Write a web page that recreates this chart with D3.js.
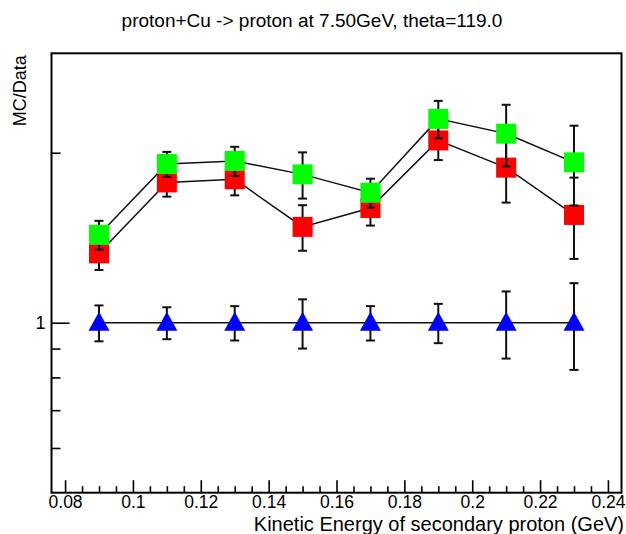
<!DOCTYPE html>
<html>
<head>
<meta charset="utf-8">
<script src="https://cdn.jsdelivr.net/npm/d3@7"></script>
<style>
  html, body { margin: 0; padding: 0; background: #fff; }
  svg { display: block; font-family: "Liberation Sans", Arial, Helvetica, sans-serif; }
</style>
</head>
<body>
<svg id="chart" width="626" height="534"></svg>
<script>
// ---- data ----
const energies = [0.09, 0.11, 0.13, 0.15, 0.17, 0.19, 0.21, 0.23];
const redValues   = [1.327, 1.772, 1.795, 1.478, 1.596, 2.103, 1.882, 1.552];
const redErrors   = [0.087, 0.100, 0.114, 0.137, 0.110, 0.162, 0.250, 0.255];
const greenValues = [1.431, 1.910, 1.934, 1.831, 1.699, 2.296, 2.162, 1.923];
const greenErrors = [0.084, 0.097, 0.115, 0.172, 0.100, 0.175, 0.270, 0.310];
const blueValues  = [1.0, 1.0, 1.0, 1.0, 1.0, 1.0, 1.0, 1.0];
const blueErrors  = [0.073, 0.065, 0.070, 0.100, 0.070, 0.080, 0.136, 0.175];
const xMajorTicks = [0.08, 0.10, 0.12, 0.14, 0.16, 0.18, 0.20, 0.22, 0.24];
const xTickLabels = ["0.08", "0.1", "0.12", "0.14", "0.16", "0.18", "0.2", "0.22", "0.24"];
const yMajorTicks = [1];
const yTickLabels = ["1"];
const yMinorTicks = [0.6, 0.7, 0.8, 0.9, 2];
const titleText = "proton+Cu -> proton at 7.50GeV, theta=119.0";
const xLabel = "Kinetic Energy of secondary proton (GeV)";
const yLabel = "MC/Data";

// ---- layout ----
const L = 51.5, R = 621.5, T = 53.3, B = 492.7;
const svg = d3.select("#chart");

const x = d3.scaleLinear().domain([0.076, 0.244]).range([L, R]);
const y = d3.scaleLog().domain([0.5, 3]).range([B, T]);

// minor x ticks every 0.005
const xMinorTicks = d3.range(0, 33).map(i => +(0.08 + i * 0.005).toFixed(3))
  .filter(v => !xMajorTicks.some(m => Math.abs(m - v) < 1e-9));

// x axis
const xAxis = d3.axisBottom(x).tickValues(xMajorTicks).tickSize(-12.5).tickPadding(3)
  .tickFormat((d, i) => xTickLabels[i]);
const gx = svg.append("g").attr("transform", `translate(0,${B})`).call(xAxis);
gx.select(".domain").remove();
gx.selectAll(".tick line").attr("stroke", "#000").attr("stroke-width", 1.6);
gx.selectAll(".tick text").attr("font-size", 17.5).attr("fill", "#000")
  .attr("font-family", "Liberation Sans, Arial, sans-serif");

const gxm = svg.append("g").attr("transform", `translate(0,${B})`)
  .call(d3.axisBottom(x).tickValues(xMinorTicks).tickSize(-6.5).tickFormat(""));
gxm.select(".domain").remove();
gxm.selectAll(".tick line").attr("stroke", "#000").attr("stroke-width", 1.6);

// y axis
const yAxis = d3.axisLeft(y).tickValues(yMajorTicks).tickSize(-18).tickPadding(6)
  .tickFormat((d, i) => yTickLabels[i]);
const gy = svg.append("g").attr("transform", `translate(${L},0)`).call(yAxis);
gy.select(".domain").remove();
gy.selectAll(".tick line").attr("stroke", "#000").attr("stroke-width", 1.6);
gy.selectAll(".tick text").attr("font-size", 18).attr("fill", "#000")
  .attr("font-family", "Liberation Sans, Arial, sans-serif");

const gym = svg.append("g").attr("transform", `translate(${L},0)`)
  .call(d3.axisLeft(y).tickValues(yMinorTicks).tickSize(-9).tickFormat(""));
gym.select(".domain").remove();
gym.selectAll(".tick line").attr("stroke", "#000").attr("stroke-width", 1.6);

// frame
svg.append("rect").attr("x", L).attr("y", T).attr("width", R - L).attr("height", B - T)
  .attr("fill", "none").attr("stroke", "#000").attr("stroke-width", 2);

// series
function drawSeries(values, errors, color, shape) {
  const pts = energies.map((e, i) => ({ e, v: values[i], err: errors[i] }));
  const g = svg.append("g");
  g.append("path").datum(pts)
    .attr("d", d3.line().x(d => x(d.e)).y(d => y(d.v)))
    .attr("fill", "none").attr("stroke", "#111").attr("stroke-width", 1.5);
  const eb = g.append("g").attr("stroke", "#111").attr("stroke-width", 2);
  pts.forEach(d => {
    const cx = x(d.e), y1 = y(d.v + d.err), y2 = y(d.v - d.err);
    eb.append("line").attr("x1", cx).attr("x2", cx).attr("y1", y1).attr("y2", y2);
    eb.append("line").attr("x1", cx - 4.5).attr("x2", cx + 4.5).attr("y1", y1).attr("y2", y1);
    eb.append("line").attr("x1", cx - 4.5).attr("x2", cx + 4.5).attr("y1", y2).attr("y2", y2);
  });
  if (shape === "square") {
    g.selectAll("rect.m").data(pts).enter().append("rect")
      .attr("x", d => x(d.e) - 10).attr("y", d => y(d.v) - 10)
      .attr("width", 20).attr("height", 20).attr("fill", color);
  } else {
    g.selectAll("path.m").data(pts).enter().append("path")
      .attr("d", d => {
        const cx = x(d.e), cy = y(d.v);
        return `M${cx},${cy - 11} L${cx + 10.5},${cy + 8} L${cx - 10.5},${cy + 8} Z`;
      })
      .attr("fill", color);
  }
}
drawSeries(redValues, redErrors, "#ff0000", "square");
drawSeries(greenValues, greenErrors, "#00ff00", "square");
drawSeries(blueValues, blueErrors, "#0000ff", "triangle");

// texts
svg.append("text").attr("x", 312).attr("y", 27).attr("text-anchor", "middle")
  .attr("font-size", 19).attr("fill", "#000").text(titleText);
svg.append("text").attr("x", 624).attr("y", 531).attr("text-anchor", "end")
  .attr("font-size", 20).attr("fill", "#000").text(xLabel);
svg.append("text").attr("transform", `translate(26,${T + 2}) rotate(-90)`)
  .attr("text-anchor", "end").attr("font-size", 18).attr("fill", "#000").text(yLabel);
</script>
</body>
</html>
